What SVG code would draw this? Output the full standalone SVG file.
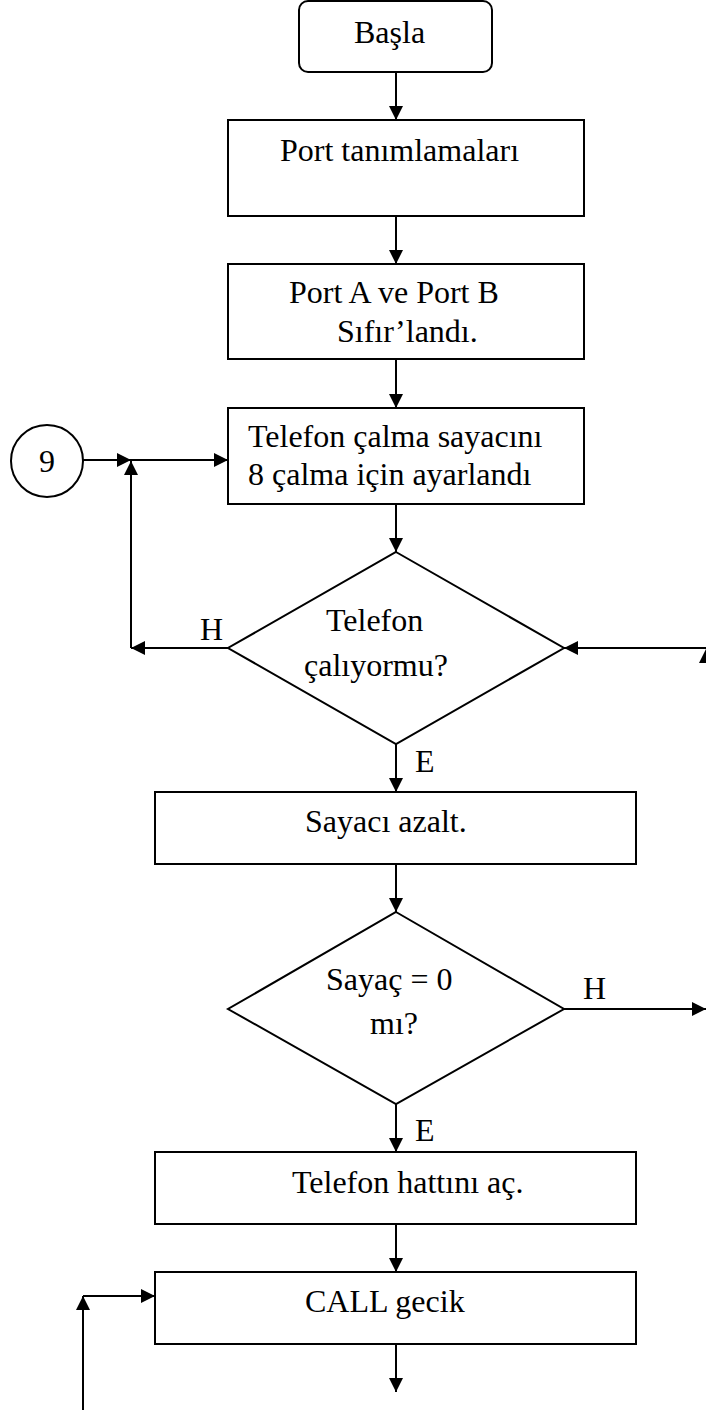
<svg xmlns="http://www.w3.org/2000/svg" width="706" height="1417" viewBox="0 0 706 1417">
  <style>
    .shape { fill: #fff; stroke: #000; stroke-width: 2; }
    .line { fill: none; stroke: #000; stroke-width: 2; }
    .head { fill: #000; stroke: none; }
    text { font-family: "Liberation Serif", "Times New Roman", serif; font-size: 32px; fill: #000; }
  </style>
  <defs>
    <marker id="arrow" viewBox="0 0 14 14" refX="14" refY="7" markerWidth="14" markerHeight="14" markerUnits="userSpaceOnUse" orient="auto">
      <path d="M0,0 L14,7 L0,14 Z" class="head"/>
    </marker>
  </defs>
  <rect width="706" height="1417" fill="#fff"/>

  <g id="connectors">
    <line class="line" x1="396" y1="72" x2="396" y2="120" marker-end="url(#arrow)"/>
    <line class="line" x1="396" y1="216" x2="396" y2="264" marker-end="url(#arrow)"/>
    <line class="line" x1="396" y1="359" x2="396" y2="408" marker-end="url(#arrow)"/>
    <line class="line" x1="396" y1="504" x2="396" y2="552" marker-end="url(#arrow)"/>
    <!-- loop back from the ring check -->
    <line class="line" x1="228" y1="648" x2="131" y2="648" marker-end="url(#arrow)"/>
    <line class="line" x1="131" y1="648" x2="131" y2="461" marker-end="url(#arrow)"/>
    <line class="line" x1="83" y1="460" x2="131" y2="460" marker-end="url(#arrow)"/>
    <line class="line" x1="131" y1="460" x2="228" y2="460" marker-end="url(#arrow)"/>
    <!-- return from the right side -->
    <line class="line" x1="706" y1="648" x2="564" y2="648" marker-end="url(#arrow)"/>
    <path class="head" d="M699,663 L706,649 L713,663 Z"/>
    <line class="line" x1="396" y1="744" x2="396" y2="792" marker-end="url(#arrow)"/>
    <line class="line" x1="396" y1="864" x2="396" y2="912" marker-end="url(#arrow)"/>
    <line class="line" x1="564" y1="1009" x2="706" y2="1009" marker-end="url(#arrow)"/>
    <line class="line" x1="396" y1="1104" x2="396" y2="1152" marker-end="url(#arrow)"/>
    <line class="line" x1="396" y1="1224" x2="396" y2="1272" marker-end="url(#arrow)"/>
    <line class="line" x1="396" y1="1344" x2="396" y2="1392" marker-end="url(#arrow)"/>
    <!-- delay loop entry -->
    <line class="line" x1="83" y1="1410" x2="83" y2="1296" marker-end="url(#arrow)"/>
    <line class="line" x1="83" y1="1296" x2="155" y2="1296" marker-end="url(#arrow)"/>
    <text x="200" y="640">H</text>
    <text x="415" y="772">E</text>
    <text x="583" y="999">H</text>
    <text x="415" y="1141">E</text>
  </g>

  <g id="start">
    <rect class="shape" x="299" y="1" width="193" height="71" rx="9"/>
    <text x="354" y="43">Başla</text>
  </g>
  <g id="port-defs">
    <rect class="shape" x="228" y="120" width="356" height="96"/>
    <text x="280" y="161">Port tanımlamaları</text>
  </g>
  <g id="port-reset">
    <rect class="shape" x="228" y="264" width="356" height="95"/>
    <text x="289" y="303">Port A ve Port B</text>
    <text x="337" y="342">Sıfır’landı.</text>
  </g>
  <g id="ring-counter">
    <rect class="shape" x="228" y="408" width="356" height="96"/>
    <text x="248" y="447">Telefon çalma sayacını</text>
    <text x="248" y="485">8 çalma için ayarlandı</text>
  </g>
  <g id="connector-9">
    <circle class="shape" cx="47" cy="461" r="36"/>
    <text x="47" y="472" text-anchor="middle">9</text>
  </g>
  <g id="ringing">
    <polygon class="shape" points="396,552 564,648 396,744 228,648"/>
    <text x="326" y="631">Telefon</text>
    <text x="304" y="676">çalıyormu?</text>
  </g>
  <g id="decrement">
    <rect class="shape" x="155" y="792" width="481" height="72"/>
    <text x="305" y="832">Sayacı azalt.</text>
  </g>
  <g id="zero-check">
    <polygon class="shape" points="396,912 564,1009 396,1104 228,1009"/>
    <text x="326" y="990">Sayaç = 0</text>
    <text x="370" y="1034">mı?</text>
  </g>
  <g id="open-line">
    <rect class="shape" x="155" y="1152" width="481" height="72"/>
    <text x="292" y="1193">Telefon hattını aç.</text>
  </g>
  <g id="delay">
    <rect class="shape" x="155" y="1272" width="481" height="72"/>
    <text x="305" y="1312">CALL gecik</text>
  </g>
</svg>
